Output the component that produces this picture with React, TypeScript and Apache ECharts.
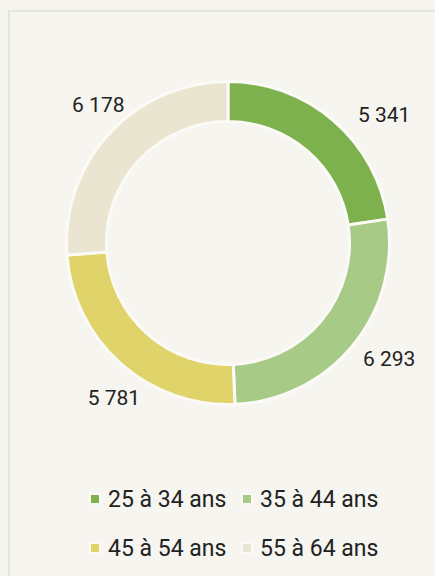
import React, { useEffect, useRef } from "react";
import * as echarts from "echarts";

const categories = ["25 à 34 ans", "35 à 44 ans", "45 à 54 ans", "55 à 64 ans"];
const values = [5341, 6293, 5781, 6178];
const palette = ["#7cb14d", "#a7ca86", "#e0d36a", "#e9e5d0"];
// small hand nudges of the value labels away from ECharts' default outside placement
const labelNudgeX = [0, -15, 44, 40];
const labelNudgeY = [0, 9, 29, -23];

const fmt = (v: number) => String(v).replace(/\B(?=(\d{3})+(?!\d))/g, " ");

export default function App() {
  const ref = useRef<HTMLDivElement>(null);
  useEffect(() => {
    document.body.style.margin = "0";
    document.body.style.background = "#f6f5ef";
    const chart = echarts.init(ref.current!, undefined, { renderer: "svg" });
    const font = "Roboto, 'Liberation Sans', sans-serif";
    chart.setOption({
      animation: false,
      color: palette,
      legend: {
        left: 89,
        top: 481,
        width: 320,
        padding: 0,
        itemGap: 13,
        itemWidth: 10,
        itemHeight: 10,
        icon: "rect",
        data: categories,
        textStyle: {
          fontFamily: font,
          fontSize: 23,
          color: "#222",
          width: 120,
          lineHeight: 36,
          padding: [0, 0, 0, 3],
        },
      },
      series: [
        {
          type: "pie",
          center: [228, 243],
          radius: [121.5, 161.5],
          startAngle: 90,
          clockwise: true,
          avoidLabelOverlap: false,
          itemStyle: { borderColor: "#fbfaf6", borderWidth: 3 },
          label: {
            show: true,
            position: "outside",
            fontFamily: font,
            fontSize: 21,
            color: "#222",
            formatter: (p: any) => fmt(p.value),
          },
          labelLine: { show: false, length: 7, length2: 15 },
          labelLayout: (p: any) => ({ dx: labelNudgeX[p.dataIndex], dy: labelNudgeY[p.dataIndex] }),
          emphasis: { disabled: true },
          data: categories.map((c, i) => ({ name: c, value: values[i] })),
        },
      ],
    });
    return () => chart.dispose();
  }, []);
  return (
    <div style={{ position: "relative", width: 435, height: 576, overflow: "hidden", background: "#f6f5ef" }}>
      <div
        style={{
          position: "absolute",
          left: 8,
          top: 10,
          width: 600,
          height: 700,
          borderTop: "2px solid #e3e6da",
          borderLeft: "2px solid #e3e6da",
        }}
      />
      <div ref={ref} style={{ position: "absolute", left: 0, top: 0, width: 435, height: 576 }} />
    </div>
  );
}
